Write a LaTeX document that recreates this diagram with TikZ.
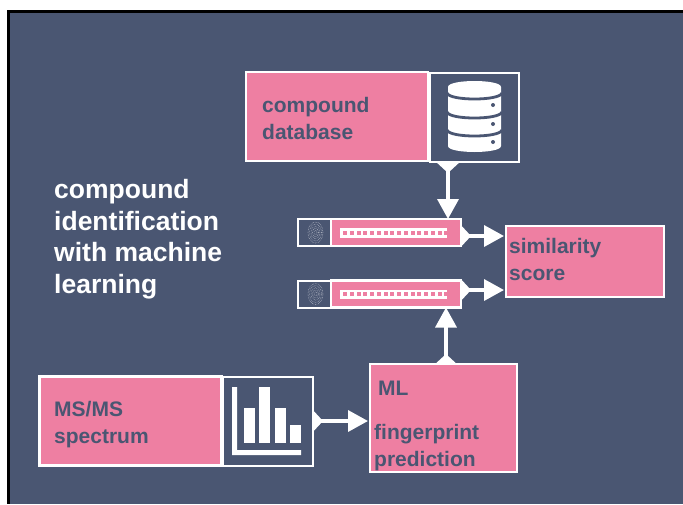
\documentclass[tikz,border=0pt]{standalone}
\usepackage{fontspec}
\setmainfont{Liberation Sans}
\usetikzlibrary{arrows.meta}
\definecolor{slateb}{HTML}{4A5672}
\definecolor{pinkb}{HTML}{EE7FA2}
\tikzset{
  pinkbox/.style={draw=white,fill=pinkb,line width=2.5pt,inner sep=0pt,outer sep=0pt},
  iconbox/.style={draw=white,fill=slateb,line width=2pt,inner sep=0pt,outer sep=0pt},
  lab/.style={text=slateb,font=\bfseries\fontsize{21}{27}\selectfont,align=left,anchor=north west,inner sep=0pt},
  titlelab/.style={text=white,font=\bfseries\fontsize{26.5}{31.7}\selectfont,align=left,anchor=north west,inner sep=0pt},
  flow/.style={draw=white,line width=3.5pt,{Triangle[reversed,width=21pt,length=10pt]}-{Triangle[width=21pt,length=20pt]},white},
  ridge/.style={draw=white!60!slateb,line width=0.55pt,densely dotted}
}
\newcommand{\fingerprint}[2]{%
  \foreach \r in {1.5,3,4.5,6,7.5}{
    \draw[ridge] (#1,#2) ellipse[x radius=\r,y radius=\r*1.4];
  }
}
\newcommand{\strip}[1]{%
  \fill[white] (340,#1) rectangle (447,#1+9.5);
  \foreach \i in {0,...,15}{
    \fill[pinkb] (343.2+\i*6.75,#1+2.8) rectangle ++(3.8,3.8);
  }
}
\begin{document}
\begin{tikzpicture}[x=1pt,y=-1pt]
\useasboundingbox (0,0) rectangle (683,504);
\fill[white] (0,0) rectangle (683,504);
\fill[black] (7,10) rectangle (683,504);
\fill[slateb] (10,13) rectangle (683,504);

% title
\node[titlelab] (title) at (54,179) {compound\\identification\\with machine\\learning};

% compound database
\node[iconbox,minimum width=89pt,minimum height=89pt] (dbicon) at (474,117) {};
\node[pinkbox,minimum width=182pt,minimum height=89pt] (db) at (337,116.5) {};
\node[lab] (dblab) at (262,97) {compound\\database};
\fill[white] (448,87) .. controls (448,79) and (501,79) .. (501,87)
  -- (501,146) .. controls (501,154) and (448,154) .. (448,146) -- cycle;
\foreach \yy in {93,112,130}{
  \draw[slateb,line width=2.8pt] (447,\yy) .. controls (449,\yy+8) and (500,\yy+8) .. (502,\yy);
}
\foreach \yy in {105,124,142}{
  \fill[slateb] (493,\yy) circle[radius=2];
}

% fingerprint bars
\node[iconbox,minimum width=34pt,minimum height=27pt] (fpa) at (314.5,232.5) {};
\node[pinkbox,line width=2.2pt,minimum width=130pt,minimum height=27pt] (bara) at (396,232.5) {};
\fingerprint{315.5}{232.5}
\strip{228}
\node[iconbox,minimum width=34pt,minimum height=27pt] (fpb) at (314.5,294) {};
\node[pinkbox,line width=2.2pt,minimum width=130pt,minimum height=27pt] (barb) at (396,294) {};
\fingerprint{315.5}{294}
\strip{289.5}

% similarity score
\node[pinkbox,minimum width=158pt,minimum height=71pt] (score) at (585,261.5) {};
\node[lab] (scorelab) at (509,238) {similarity\\score};

% MS/MS spectrum
\node[iconbox,minimum width=90pt,minimum height=89pt] (spec) at (268,421) {};
\node[pinkbox,minimum width=182pt,minimum height=89pt] (ms) at (130.5,421) {};
\node[lab] (mslab) at (54,401) {MS/MS\\spectrum};
\fill[white] (232,387) -- (237,387) -- (237,450) -- (301,450) -- (301,455) -- (232,455) -- cycle;
\fill[white] (244,408) rectangle (255,443);
\fill[white] (259,387) rectangle (270,443);
\fill[white] (275,408) rectangle (286,443);
\fill[white] (290,425) rectangle (301,443);

% ML
\node[pinkbox,minimum width=147pt,minimum height=108pt] (ml) at (443.5,418) {};
\node[lab] (mla) at (378,381) {ML};
\node[lab] (mlb) at (374,424.5) {fingerprint\\prediction};

% connectors
\draw[flow] ([xshift=-26pt,yshift=-1.5pt]dbicon.south) -- ([xshift=52pt]bara.north);
\draw[flow] (bara.east |- 0,236) -- ([xshift=-2pt]score.west |- 0,236);
\draw[flow] (barb.east |- 0,290) -- ([xshift=-2pt]score.west |- 0,290);
\draw[flow] ([xshift=2.5pt]ml.north) -- ([xshift=50pt]barb.south);
\draw[flow] (spec.east) -- ([xshift=-2pt]ml.west |- spec.east);
\end{tikzpicture}
\end{document}
